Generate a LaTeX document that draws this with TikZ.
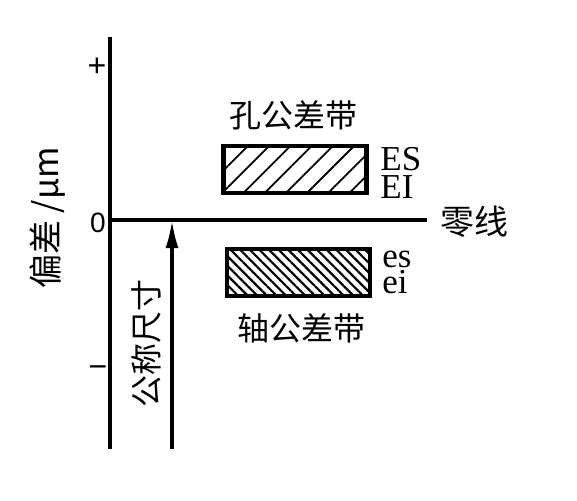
\documentclass[tikz,border=0pt]{standalone}
\usepackage{fontspec}
\setmainfont{Liberation Serif}
\newfontfamily\cjk{Noto Sans CJK SC}
\newfontfamily\sanslike{Liberation Sans}
\usetikzlibrary{arrows.meta,patterns.meta}

\begin{document}
\begin{tikzpicture}[x=0.5pt,y=-0.5pt,
        axis/.style={line width=1.7pt},
        zonebox/.style={draw,line width=2.2pt,minimum width=71.5pt,minimum height=23.5pt,inner sep=0pt},
        holezone/.style={zonebox,pattern={Lines[angle=45,distance=7.5pt,line width=0.9pt]}},
        shaftzone/.style={zonebox,pattern={Lines[angle=-45,distance=3.4pt,line width=1.1pt]}},
        cjklabel/.style={font=\fontsize{16pt}{18pt}\selectfont\cjk,inner sep=0pt},
        devlabel/.style={font=\fontsize{17.5pt}{19pt}\selectfont,anchor=base west,inner sep=0pt},
        ticklabel/.style={font=\fontsize{16pt}{18pt}\selectfont\sanslike,inner sep=0pt}]
        \useasboundingbox (0,0) rectangle (577,500);

        \coordinate (top) at (110,37);
        \coordinate (bot) at (110,449);
        \coordinate (zero) at (110,220);
        \coordinate (zeroend) at (427,220);
        \coordinate (sizebot) at (172,449);
        \coordinate (sizetop) at (172,220);

        \draw [axis] (top) -- (bot);
        \draw [axis] (zero) -- (zeroend);
        \draw [axis, -{Latex[length=14pt,width=6.5pt]}] (sizebot) -- (sizetop);

        \node [holezone] (hole) at (295,169.5) {};
        \node [shaftzone] (shaft) at (298.5,272.5) {};

        \node [ticklabel] (plus) at (97,67) {+};
        \node [ticklabel, font=\fontsize{14pt}{16pt}\selectfont\sanslike] (nought) at (98,223) {0};
        \node [ticklabel] (minus) at (98,372) {−};

        \node [cjklabel] (holetxt) at (293,115) {孔公差带};
        \node [cjklabel] (shafttxt) at (301,328) {轴公差带};
        \node [cjklabel, font=\fontsize{17pt}{19pt}\selectfont\cjk] (zerotxt) at (474,222) {零线};
        \node [cjklabel, rotate=90] (sizetxt) at (146,343) {公称尺寸};
        \node [cjklabel, rotate=90, font=\fontsize{17pt}{19pt}\selectfont\cjk] (devtxt) at (48,218) {偏差 /μm};

        \node [devlabel] (ES) at (380,170) {ES};
        \node [devlabel] (EI) at (380,198) {EI};
        \node [devlabel] (es) at (382,267) {es};
        \node [devlabel] (ei) at (382,293) {ei};
    \end{tikzpicture}
\end{document}
